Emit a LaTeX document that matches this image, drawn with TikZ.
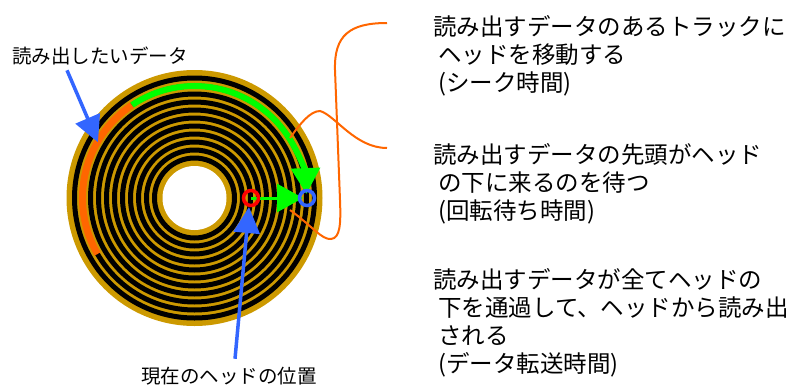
\documentclass[tikz,border=0pt]{standalone}
\usepackage{fontspec}
\setmainfont{Noto Sans CJK JP}
\usetikzlibrary{arrows.meta,positioning}

\definecolor{diskgold}{RGB}{204,153,0}
\definecolor{headblue}{RGB}{51,102,255}
\definecolor{seekgreen}{RGB}{0,255,0}
\definecolor{dataorange}{RGB}{255,102,0}
\newcommand{\descindent}{\hspace*{5pt}}

\begin{document}
\begin{tikzpicture}[
  x=1pt,y=-1pt,
  note/.style={font=\fontsize{19.5}{23}\selectfont,inner sep=2pt},
  desc/.style={font=\fontsize{23.5}{28}\selectfont,align=left,inner sep=0pt,anchor=north west},
  pointer/.style={-{Triangle[length=26pt,width=26pt]},line width=3.5pt,headblue},
  move/.style={-{Triangle[length=26pt,width=28pt]},seekgreen},
  headring/.style={line width=3.5pt},
  leader/.style={dataorange,line width=2pt},
]
  \useasboundingbox (0,0) rectangle (796,389);

  % platter and tracks
  \coordinate (disk) at (194.5,198);
  \fill[diskgold] (disk) circle (128);
  \foreach \r in {120,112,...,40}
    \draw[line width=5pt] (disk) circle (\r);
  \fill[white] (disk) circle (32);

  \coordinate (headnow) at ([xshift=56.5pt]disk);
  \coordinate (headgoal) at ([xshift=112.5pt]disk);
  \coordinate (wanted) at ([shift={(-150:111.5)}]disk);
  \coordinate (seekpt) at (290,210);
  \coordinate (waitpt) at (290,138);

  % rotation up to the head, and the seek itself
  \draw[move,line width=6pt] (disk) ++(-124:112) arc[start angle=-124,end angle=-2,radius=112];
  \draw[dataorange,line width=7pt] (disk) ++(-124:112) arc[start angle=-124,end angle=-210,radius=112];
  \draw[move,line width=3pt,shorten >=4pt] (headnow) -- (headgoal);

  \node[note] (wantlbl) at (100,56) {読み出したいデータ};
  \node[note] (nowlbl) at (229,376) {現在のヘッドの位置};

  \draw[pointer] ([xshift=-33pt,yshift=-3pt]wantlbl.south) -- (wanted);
  \draw[pointer] ([xshift=6pt,yshift=6pt]nowlbl.north) -- ([xshift=-2pt,yshift=-9pt]headnow);

  \draw[headring,red] (headnow) circle (7.5);
  \draw[headring,headblue] (headgoal) circle (7.5);

  \node[desc] (seeklbl) at (433,15) {読み出すデータのあるトラックに\\\descindent ヘッドを移動する\\\descindent (シーク時間)};
  \node[desc] (waitlbl) at (433,143) {読み出すデータの先頭がヘッド\\\descindent の下に来るのを待つ\\\descindent (回転待ち時間)};
  \node[desc] (xferlbl) at (433,268) {読み出すデータが全てヘッドの\\\descindent 下を通過して、ヘッドから読み出\\\descindent される\\\descindent (データ転送時間)};

  \draw[leader] ([xshift=-46pt,yshift=-8pt]seeklbl.north west) .. controls (350,23) and (334,35) .. (335,70)
    -- (340,200) .. controls (341,225) and (340,238) .. (331,239) .. controls (322,240) and (312,226) .. (seekpt);
  \draw[leader] ([xshift=-46pt,yshift=-5pt]waitlbl.north west) .. controls (355,148) and (335,115) .. (320,111)
    .. controls (310,111) and (300,124) .. (waitpt);
\end{tikzpicture}
\end{document}
